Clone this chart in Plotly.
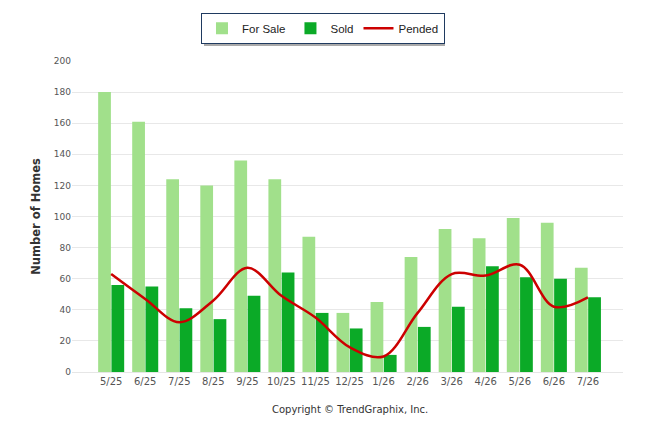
import plotly.graph_objects as go

months = ["5/25", "6/25", "7/25", "8/25", "9/25", "10/25", "11/25", "12/25",
          "1/26", "2/26", "3/26", "4/26", "5/26", "6/26", "7/26"]
for_sale = [180, 161, 124, 120, 136, 124, 87, 38, 45, 74, 92, 86, 99, 96, 67]
sold = [56, 55, 41, 34, 49, 64, 38, 28, 11, 29, 42, 68, 61, 60, 48]
pended = [63, 47, 32, 46, 67, 49, 35, 16, 10, 38, 63, 62, 69, 42, 48]

font = "DejaVu Sans"

# the page has an 8px body margin, so the layout is shifted up/left by 8px
fig = go.Figure()
fig.add_trace(go.Bar(x=months, y=for_sale, name="For Sale",
                     marker=dict(color="#A1E08B", line=dict(width=0))))
fig.add_trace(go.Bar(x=months, y=sold, name="Sold",
                     marker=dict(color="#0BAA27", line=dict(width=0))))
fig.add_trace(go.Scatter(x=months, y=pended, name="Pended", mode="lines",
                         line=dict(color="#CC0000", width=2.5, shape="spline", smoothing=1.0)))

fig.update_layout(
    width=646, height=434,
    margin=dict(l=64, r=31, t=53, b=70, autoexpand=False),
    paper_bgcolor="white", plot_bgcolor="white",
    barmode="group", bargap=0.22, bargroupgap=0.04,
    font=dict(family=font, size=10, color="#555555"),
    legend=dict(orientation="h", x=0.4876, xref="container", xanchor="center",
                y=0.989, yref="container", yanchor="top",
                bordercolor="#1F3A60", borderwidth=1, bgcolor="white",
                font=dict(family="Liberation Sans", size=11.5, color="#222222"),
                itemwidth=30, traceorder="normal"),
    xaxis=dict(range=[-1.15, 15.03], showgrid=False, showline=True, automargin=False,
               linecolor="#E6E6E6", linewidth=1, ticks="", tickfont=dict(size=10, color="#555555")),
    yaxis=dict(range=[0, 200], dtick=20, showgrid=True, gridcolor="#E8E8E8", automargin=False,
               zeroline=False, showline=False, ticks="",
               tickfont=dict(size=9, color="#555555"),
               title=dict(text="<b>Number of Homes</b>", font=dict(size=11.5, color="#333333"), standoff=10)),
    # legend drop shadow
    shapes=[dict(type="rect", xref="paper", yref="paper", layer="below",
                 x0=(196 - 64) / 551, x1=(437 - 64) / 551,
                 y0=(364 - 38) / 311, y1=(364 - 9) / 311,
                 fillcolor="#AAAAAA", line=dict(width=0))],
    annotations=[dict(text="Copyright \u00a9 TrendGraphix, Inc.", xref="paper", yref="paper",
                      x=0.5045, y=-0.096, xanchor="center", yanchor="top", showarrow=False,
                      font=dict(family=font, size=10, color="#333333"))],
)

fig.write_html("out.html")
